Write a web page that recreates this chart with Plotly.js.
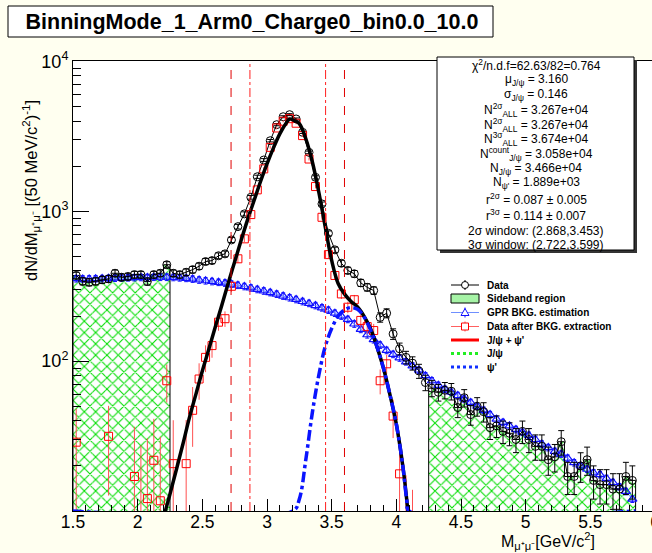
<!DOCTYPE html>
<html><head><meta charset="utf-8">
<script src="https://cdn.plot.ly/plotly-3.0.1.min.js"></script>
<style>html,body{margin:0;padding:0;overflow:hidden;background:#fffff0;}#chart{width:660px;height:553px;}</style>
</head><body><div id="chart"></div>
<script>
// ---------- data ----------
const BIN_LO = 1.5, BIN_W = 0.05;           // 50 MeV bins starting at 1.5 GeV
const dataCounts = [373,341,336,341,349,354,386,363,367,378,378,340,378,386,440,
  386,378,392,408,430,462,469,505,520,644,
  790,961,1240,1700,2200,2958,3785,4276,4415,4131,
  3365,2473,1686,1120,713,553,450,403,383,333,
  311,296,196,209,152,121,106,97,86,72,
  66,62,64,63,49,57,44,50,46,36,
  37,34,33,30,34,30,27,27,22,23,
  29,17,17,20,22,16,15,15,14,14,
  17,16];
const gprBkg = [355,354,354,355,356,357,358,359,360,361,362,362,363,363,363,
  362,360,357,353,348,344,340,336,332,327,
  321,315,308,301,294,287,280,272,265,258,
  250,243,235,227,219,209,200,190,177,163,
  150,139,128,118,111,105,99,93,87,80,
  74,69,65,62,59,56,53,50,47,44,
  41,39,37,35,33.5,32,30,28,26.5,25,
  24,22.5,21,20,19,18,17.5,16.5,15.5,14.5,
  13.5,12];
const gprRelErr = 0.05;
const afterBkg = [28.8,null,null,null,null,31.5,null,null,null,17,8,12.1,21.8,11.7,74,
  20.7,null,20.7,47,76,106,127,182,192,316,
  482,655,951,1390,1919,2671,3597,3990,4150,3870,
  3200,2233,1463,912,514,373,281,229,257,187,
  170,160,74,96,43,17.7,7,4,null,null,
  null,null,null,null,null,null,null,null,null,null,
  null,null,null,null,null,null,null,null,null,null,
  null,null,null,null,null,null,null,null,null,null,
  null,null];
const sidebands = [[1.5, 2.25], [4.25, 5.85]];
const fitX = [2.10,2.15,2.20,2.25,2.30,2.35,2.40,2.45,2.50,2.55,2.60,2.65,2.70,2.75,2.80,2.85,2.90,2.95,3.00,3.05,3.10,3.15,3.175,3.20,3.25,3.30,3.35,3.40,3.45,3.50,3.55,3.60,3.65,3.70,3.75,3.80,3.85,3.90,3.95,4.00,4.05,4.08,4.10,4.15];
const fitY = [4,6,9,13,19,28,42,60,86,120,169,235,331,460,640,880,1180,1580,2070,2650,3300,3900,4130,4080,3850,3050,2150,1350,790,470,330,280,250,230,200,165,125,90,60,38,20,12,8,3];
const psiX = [1.5,3.20,3.25,3.30,3.35,3.40,3.45,3.50,3.55,3.60,3.65,3.70,3.75,3.80,3.85,3.90,3.95,4.00,4.05,4.08,4.10,5.85];
const psiY = [10,10,12,22,45,80,125,165,200,220,228,222,198,162,125,90,60,38,20,12,10,10];
const window3s = [2.722, 3.599];
const window2s = [2.868, 3.453];
const titleText = 'BinningMode_1_Arm0_Charge0_bin0.0_10.0';
const statsLines = [
  'χ<sup>2</sup>/n.d.f=62.63/82=0.764',
  'μ<sub>J/ψ</sub> = 3.160',
  'σ<sub>J/ψ</sub> = 0.146',
  'N<sup>2σ</sup><sub>ALL</sub> = 3.267e+04',
  'N<sup>2σ</sup><sub>ALL</sub> = 3.267e+04',
  'N<sup>3σ</sup><sub>ALL</sub> = 3.674e+04',
  'N<sup>count</sup><sub>J/ψ</sub> = 3.058e+04',
  'N<sub>J/ψ</sub> = 3.466e+04',
  'N<sub>ψ\'</sub> = 1.889e+03',
  'r<sup>2σ</sup> = 0.087 ± 0.005',
  'r<sup>3σ</sup> = 0.114 ± 0.007',
  '2σ window: (2.868,3.453)',
  '3σ window: (2.722,3.599)'];
const legendLabels = ['Data','Sideband region','GPR BKG. estimation','Data after BKG. extraction','J/ψ + ψ\'','J/ψ','ψ\''];
const xTickVals = [1.5,2,2.5,3,3.5,4,4.5,5,5.5,6];
const yTickVals = [100,1000,10000];
const yTickText = ['10<sup>2</sup>','10<sup>3</sup>','10<sup>4</sup>'];

// ---------- layout geometry (pixels) ----------
const W = 660, H = 553, ML = 73, MR = 5, MT = 61, MB = 42;
const PW = W - ML - MR, PH = H - MT - MB;
const px = p => (p - ML) / PW;
const py = p => (H - MB - p) / PH;
const FONT = 'Liberation Sans, Arial, Helvetica, sans-serif';

const binX = dataCounts.map((_, i) => +(BIN_LO + BIN_W * (i + 0.5)).toFixed(3));
const inSB = x => sidebands.some(([a, b]) => x > a && x < b);
const sbY = dataCounts.map((v, i) => inSB(binX[i]) ? v : null);

// outline of sideband histogram
const outX = [], outY = [];
sidebands.forEach(([a, b], k) => {
  const idx = binX.map((x, i) => i).filter(i => binX[i] > a && binX[i] < b);
  outX.push(a); outY.push(1);
  idx.forEach(i => { outX.push(+(binX[i] - BIN_W / 2).toFixed(3)); outY.push(dataCounts[i]); });
  const last = idx[idx.length - 1];
  outX.push(b); outY.push(dataCounts[last]);
  outX.push(b); outY.push(1);
  if (k < sidebands.length - 1) { outX.push(null); outY.push(null); }
});

const traces = [
  { type: 'bar', x: binX, y: sbY, width: BIN_W, showlegend: false,
    marker: { color: 'white', line: { width: 0 },
      pattern: { shape: 'x', fgcolor: '#00dd00', bgcolor: 'white', size: 8, solidity: 0.25 } } },
  { type: 'scatter', mode: 'lines', x: outX, y: outY, line: { color: 'black', width: 1, shape: 'hv' }, showlegend: false, hoverinfo: 'skip' },
  { type: 'scatter', mode: 'lines+markers', x: binX, y: gprBkg, showlegend: false,
    line: { color: '#6f8fff', width: 1 },
    marker: { symbol: 'triangle-up-open', size: 8, color: '#1010ff', line: { width: 1.2, color: '#1010ff' } },
    error_y: { type: 'data', array: gprBkg.map(v => v * gprRelErr), color: '#1010ff', thickness: 1, width: 2 } },
  { type: 'scatter', mode: 'lines+markers', x: binX, y: dataCounts, showlegend: false,
    line: { color: 'black', width: 1 },
    marker: { symbol: 'circle-open', size: 8, color: 'black', line: { width: 1, color: 'black' } },
    error_y: { type: 'data', array: dataCounts.map(v => Math.sqrt(v)), color: 'black', thickness: 1, width: 3 } },
  { type: 'scatter', mode: 'markers', x: binX, y: afterBkg, showlegend: false,
    marker: { symbol: 'square-open', size: 8, color: '#ff0000', line: { width: 1, color: '#ff0000' } },
    error_y: { type: 'data', array: dataCounts.map(v => Math.sqrt(v)), color: '#ff5050', thickness: 1, width: 0 } },
  { type: 'scatter', mode: 'lines', x: fitX, y: fitY, showlegend: false, line: { color: 'black', width: 3.5, shape: 'spline' } },
  { type: 'scatter', mode: 'lines', x: psiX, y: psiY, showlegend: false, line: { color: '#0a14ff', width: 3.5, dash: 'dashdot', shape: 'spline' } }
];

const shapes = [];
window3s.forEach(x => shapes.push({ type: 'line', xref: 'x', yref: 'paper', x0: x, x1: x, y0: 0, y1: 1, line: { color: '#e00000', width: 1, dash: 'dash' } }));
window2s.forEach(x => shapes.push({ type: 'line', xref: 'x', yref: 'paper', x0: x, x1: x, y0: 0, y1: 1, line: { color: '#ff2020', width: 1, dash: 'dashdot' } }));
// title box
shapes.push({ type: 'rect', xref: 'paper', yref: 'paper', x0: px(8), x1: px(493), y0: py(37), y1: py(6), fillcolor: 'white', line: { color: 'black', width: 1 }, layer: 'below' });
// stats box with shadow
shapes.push({ type: 'rect', xref: 'paper', yref: 'paper', x0: px(440), x1: px(637), y0: py(253), y1: py(60), fillcolor: '#333', line: { width: 0 } });
shapes.push({ type: 'rect', xref: 'paper', yref: 'paper', x0: px(437), x1: px(634), y0: py(250), y1: py(57), fillcolor: 'white', line: { color: 'black', width: 1 } });

// legend
const LX0 = 451, LX1 = 479, LXC = 465, LTX = 485;
const LY = [285, 298.5, 312.5, 326.5, 340, 353.5, 367];
const seg = (y, color, width, dash) => ({ type: 'line', xref: 'paper', yref: 'paper', x0: px(LX0), x1: px(LX1), y0: py(y), y1: py(y), line: { color, width, dash: dash || 'solid' } });
const vbar = (y, color) => ({ type: 'line', xref: 'paper', yref: 'paper', x0: px(LXC), x1: px(LXC), y0: py(y - 5), y1: py(y + 5), line: { color, width: 1 } });
shapes.push(seg(LY[0], 'black', 1), vbar(LY[0], 'black'));
shapes.push({ type: 'circle', xref: 'paper', yref: 'paper', xsizemode: 'pixel', ysizemode: 'pixel', xanchor: px(LXC), yanchor: py(LY[0]), x0: -3.5, x1: 3.5, y0: -3.5, y1: 3.5, fillcolor: 'white', line: { color: 'black', width: 1 } });
shapes.push({ type: 'rect', xref: 'paper', yref: 'paper', x0: px(LX0), x1: px(LX1), y0: py(LY[1] + 4.5), y1: py(LY[1] - 4.5), fillcolor: 'rgba(0,220,0,0.35)', line: { color: 'black', width: 1 } });
shapes.push(seg(LY[2], '#6f8fff', 1), vbar(LY[2], '#1010ff'));
shapes.push({ type: 'path', xref: 'paper', yref: 'paper', xsizemode: 'pixel', ysizemode: 'pixel', xanchor: px(LXC), yanchor: py(LY[2]), path: 'M-4,-3 L4,-3 L0,4 Z', fillcolor: 'white', line: { color: '#1010ff', width: 1 } });
shapes.push(seg(LY[3], '#ff6060', 1), vbar(LY[3], '#ff5050'));
shapes.push({ type: 'rect', xref: 'paper', yref: 'paper', xsizemode: 'pixel', ysizemode: 'pixel', xanchor: px(LXC), yanchor: py(LY[3]), x0: -3.5, x1: 3.5, y0: -3.5, y1: 3.5, fillcolor: 'white', line: { color: '#ff0000', width: 1 } });
shapes.push(seg(LY[4], '#ff0000', 3));
shapes.push(seg(LY[5], '#22ee22', 3, 'dot'));
shapes.push(seg(LY[6], '#1030ff', 3, 'dot'));

const annotations = [];
legendLabels.forEach((t, i) => annotations.push({ xref: 'paper', yref: 'paper', x: px(LTX), y: py(LY[i]), xanchor: 'left', yanchor: 'middle', showarrow: false, text: '<b>' + t + '</b>', font: { family: FONT, size: 10, color: 'black' } }));
const SY = [65, 80, 95, 110, 125, 139, 154, 169, 183, 199, 215, 231, 245];
statsLines.forEach((t, i) => annotations.push({ xref: 'paper', yref: 'paper', x: px(536), y: py(SY[i]), xanchor: 'center', yanchor: 'middle', showarrow: false, text: t, font: { family: FONT, size: 12, color: 'black' } }));
annotations.push({ xref: 'paper', yref: 'paper', x: px(31), y: py(191), textangle: -90, xanchor: 'center', yanchor: 'middle', showarrow: false,
  text: 'dN/dM<sub>μ⁺μ⁻</sub> [(50 MeV/c<sup>2</sup>)<sup>-1</sup>]', font: { family: FONT, size: 16.5, color: 'black' } });
annotations.push({ xref: 'paper', yref: 'paper', x: px(499), y: py(541), xanchor: 'left', yanchor: 'middle', showarrow: false,
  text: 'M<sub>μ⁺μ⁻</sub>[GeV/c<sup>2</sup>]', font: { family: FONT, size: 16, color: 'black' } });

const layout = {
  width: W, height: H, margin: { l: ML, r: MR, t: MT, b: MB },
  paper_bgcolor: '#fffff0', plot_bgcolor: 'white', showlegend: false, barmode: 'overlay',
  title: { text: '<b>' + titleText + '</b>', xref: 'paper', x: px(252), xanchor: 'center', yref: 'container', y: 1 - 21.5 / H, yanchor: 'middle', font: { family: FONT, size: 21.5, color: 'black' } },
  xaxis: { range: [1.5, 6], tickvals: xTickVals, ticks: 'inside', ticklen: 12, tickcolor: 'black', showline: true, linecolor: 'black', mirror: true, showgrid: false, zeroline: false,
    ticklabelstandoff: -5, ticklabeloverflow: 'allow',
    tickfont: { family: FONT, size: 17.5, color: 'black' },
    minor: { dtick: 0.1, tick0: 1.5, ticks: 'inside', ticklen: 6, tickcolor: 'black', showgrid: false } },
  yaxis: { type: 'log', range: [1, 4.003], tickvals: yTickVals, ticktext: yTickText, ticks: 'inside', ticklen: 16, tickcolor: 'black', showline: true, linecolor: 'black', mirror: true, showgrid: false, zeroline: false,
    tickfont: { family: FONT, size: 18, color: 'black' },
    minor: { tickvals: [20,30,40,50,60,70,80,90,200,300,400,500,600,700,800,900,2000,3000,4000,5000,6000,7000,8000,9000], ticks: 'inside', ticklen: 8, tickcolor: 'black', showgrid: false } },
  shapes, annotations
};
Plotly.newPlot('chart', traces, layout, { staticPlot: true, displayModeBar: false });
</script></body></html>
